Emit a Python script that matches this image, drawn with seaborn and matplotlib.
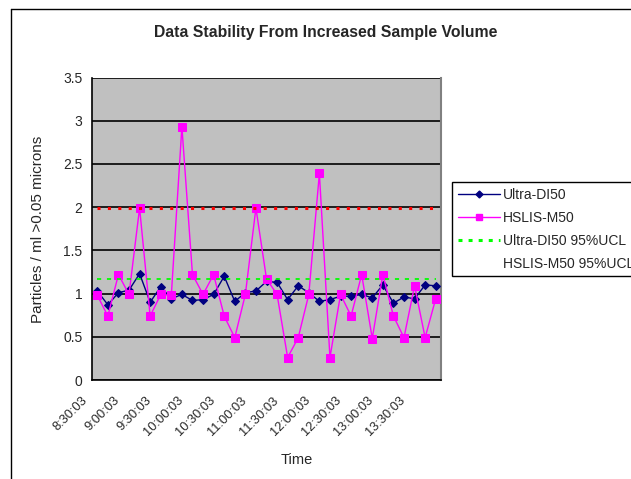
import matplotlib
matplotlib.use("Agg")
import matplotlib.pyplot as plt
import matplotlib.transforms as mtransforms
import seaborn as sns
import pandas as pd
import numpy as np
from matplotlib.lines import Line2D

# ---------------- data ----------------
times = ["8:30:03", "8:40:03", "8:50:03", "9:00:03", "9:10:03", "9:20:03",
         "9:30:03", "9:40:03", "9:50:03", "10:00:03", "10:10:03", "10:20:03",
         "10:30:03", "10:40:03", "10:50:03", "11:00:03", "11:10:03", "11:20:03",
         "11:30:03", "11:40:03", "11:50:03", "12:00:03", "12:10:03", "12:20:03",
         "12:30:03", "12:40:03", "12:50:03", "13:00:03", "13:10:03", "13:20:03",
         "13:30:03", "13:40:03", "13:50:03"]
ultra_di50 = [1.03, 0.87, 1.01, 1.04, 1.23, 0.90, 1.08, 0.94, 0.99, 0.92, 0.93,
              0.99, 1.20, 0.91, 1.01, 1.03, 1.14, 1.13, 0.93, 1.09, 1.01, 0.91,
              0.93, 0.97, 0.97, 0.99, 0.95, 1.10, 0.89, 0.96, 0.94, 1.10, 1.09]
hslis_m50 = [0.98, 0.74, 1.22, 0.99, 1.99, 0.74, 0.99, 0.98, 2.93, 1.22, 0.99,
             1.22, 0.74, 0.49, 0.99, 1.99, 1.17, 0.99, 0.26, 0.49, 0.99, 2.39,
             0.26, 0.99, 0.74, 1.22, 0.48, 1.22, 0.74, 0.49, 1.09, 0.49, 0.94]
ultra_ucl = 1.17
hslis_ucl = 1.99
series_names = ["Ultra-DI50", "HSLIS-M50", "Ultra-DI50 95%UCL", "HSLIS-M50 95%UCL"]
y_tick_labels = ["0", "0.5", "1", "1.5", "2", "2.5", "3", "3.5"]
title = "Data Stability From Increased Sample Volume"
y_label = "Particles / ml >0.05 microns"
x_label = "Time"

n = len(times)
df = pd.DataFrame({
    "idx": np.arange(n),
    "time": times,
    series_names[0]: ultra_di50,
    series_names[1]: hslis_m50,
    series_names[2]: [ultra_ucl] * n,
    series_names[3]: [hslis_ucl] * n,
})

# ---------------- style ----------------
sns.set_style("white")
plt.rcParams['font.family'] = ['Liberation Sans', 'DejaVu Sans']

W, H = 631, 479
fig = plt.figure(figsize=(W / 100, H / 100), dpi=100)
fig.patch.set_facecolor("white")
left, right, top, bottom = 92, 441, 77.5, 380
ax = fig.add_axes([left / W, 1 - bottom / H, (right - left) / W, (bottom - top) / H])
ax.set_facecolor("#C0C0C0")

navy = "#000080"
magenta = "#FF00FF"
green = "#00FF00"
red = "#FF0000"

sns.lineplot(data=df, x="idx", y=series_names[0], ax=ax, color=navy, lw=1,
             marker="D", markersize=4.5, markeredgecolor=navy, markerfacecolor=navy,
             legend=False, zorder=3)
sns.lineplot(data=df, x="idx", y=series_names[1], ax=ax, color=magenta, lw=1,
             marker="s", markersize=5.2, markeredgecolor=magenta, markerfacecolor=magenta,
             legend=False, zorder=4)
sns.lineplot(data=df, x="idx", y=series_names[2], ax=ax, color=green, lw=1.3,
             legend=False, zorder=5, dashes=False)
sns.lineplot(data=df, x="idx", y=series_names[3], ax=ax, color=red, lw=2.2,
             legend=False, zorder=5, dashes=False)
lines = ax.get_lines()
lines[2].set_dashes([2.3, 3.2])
lines[3].set_dashes([1.0, 2.4])
lines[3].set_dash_capstyle("butt")

ax.set_xlim(-0.5, n - 0.5)
ax.set_ylim(0, 3.5)
ax.set_yticks(np.arange(0, 3.51, 0.5))
ax.set_yticklabels(y_tick_labels, fontsize=10)
ax.set_xticks(np.arange(0, n, 3))
ax.set_xticklabels(times[::3], rotation=45, ha="right", va="top", fontsize=9.3)
ax.set_xticks(np.arange(-0.5, n, 1), minor=True)
ax.tick_params(axis="x", which="major", length=0, pad=6)
ax.tick_params(axis="x", which="minor", length=4, width=1, direction="out", color="black")
ax.tick_params(axis="y", which="major", length=4, width=1, direction="out", color="black", pad=3)
ax.set_xlabel("")
ax.set_ylabel("")
offset = mtransforms.ScaledTranslation(-7 / 100, -6 / 100, fig.dpi_scale_trans)
for lbl in ax.get_xticklabels():
    lbl.set_transform(lbl.get_transform() + offset)

ax.set_axisbelow(True)
ax.yaxis.grid(True, color="black", lw=1.2)
ax.xaxis.grid(False)

for s in ["left", "bottom"]:
    ax.spines[s].set_color("black")
    ax.spines[s].set_linewidth(1.2)
ax.spines["right"].set_color("#808080")
ax.spines["right"].set_linewidth(1.5)
ax.spines["top"].set_visible(False)

fig.text(326 / W, 1 - 33 / H, title, ha="center", va="center", fontsize=11.3,
         fontweight="bold")
fig.text(38 / W, 1 - 229 / H, y_label, ha="center", va="center", rotation=90, fontsize=11)
fig.text(297 / W, 1 - 460 / H, x_label, ha="center", va="center", fontsize=10.5)

# outer chart-area border
fig.add_artist(Line2D([11 / W, 11 / W], [0, 1 - 9 / H], color="black", lw=1,
                      transform=fig.transFigure))
fig.add_artist(Line2D([11 / W, 1], [1 - 9 / H, 1 - 9 / H], color="black", lw=1,
                      transform=fig.transFigure))

handles = [
    Line2D([], [], color=navy, lw=1, marker="D", markersize=3.5),
    Line2D([], [], color=magenta, lw=1, marker="s", markersize=5),
    Line2D([], [], color=green, lw=2.2, dashes=[1.3, 2.0]),
    Line2D([], [], color="none", lw=1),
]
leg = fig.legend(handles, series_names, loc="upper left",
                 bbox_to_anchor=(452 / W, 1 - 182 / H), frameon=True, fancybox=False,
                 edgecolor="black", facecolor="white", framealpha=1, fontsize=10,
                 handlelength=3, handletextpad=0.25, labelspacing=0.64, borderpad=0.42,
                 borderaxespad=0)
leg.get_frame().set_linewidth(1)

fig.savefig("out.png", dpi=100)
